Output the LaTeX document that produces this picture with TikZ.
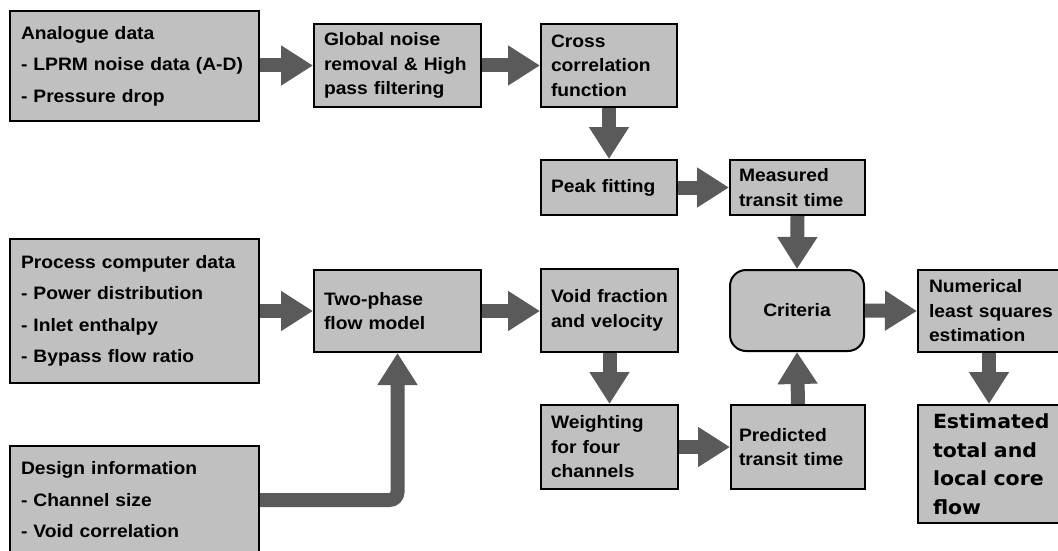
\documentclass[tikz,border=0pt]{standalone}
\usepackage{fontspec}
\setmainfont{Liberation Sans}[FakeStretch=1.07]
\newfontfamily\estfont{DejaVu Sans}[FakeStretch=1.05]
\usetikzlibrary{arrows.meta}
\definecolor{boxgray}{HTML}{C0C0C0}
\definecolor{arrowgray}{HTML}{5A5A5A}
\begin{document}
\begin{tikzpicture}[x=1pt,y=-1pt,
  box/.style={draw=black, line width=2pt, fill=boxgray, anchor=north west,
    align=left, inner ysep=0pt, inner xsep=10pt,
    font=\bfseries\fontsize{18}{24.5}\selectfont},
  listbox/.style={box, inner xsep=11pt, font=\bfseries\fontsize{18}{31.5}\selectfont},
  estbox/.style={box, inner xsep=15pt, font=\estfont\bfseries\fontsize{19.5}{28.5}\selectfont},
  conn/.style={draw=arrowgray, line width=14pt, -{Triangle[length=32pt,width=38pt]}}
]
\useasboundingbox (0,0) rectangle (1058,551);
\clip (0,0) rectangle (1058,551);
\fill[white] (0,0) rectangle (1058,551);

% top row
\node[listbox, minimum width=249pt, minimum height=110pt, text width=227pt] (analogue) at (9,10)
  {Analogue data\\- LPRM noise data (A-D)\\- Pressure drop};
\node[box, minimum width=167pt, minimum height=83pt, text width=147pt] (global) at (313,23)
  {Global noise\\removal \& High\\pass filtering};
\node[box, minimum width=136pt, minimum height=83pt, text width=116pt] (cross) at (540,23)
  {Cross\\correlation\\function};
\node[box, minimum width=136pt, minimum height=55pt, text width=116pt] (peak) at (540,159)
  {Peak fitting};
\node[box, minimum width=135pt, minimum height=55pt, text width=117pt, inner xsep=9pt] (measured) at (729,159)
  {Measured\\\mbox{transit time}};

% middle row
\node[listbox, minimum width=249pt, minimum height=144pt, text width=227pt] (process) at (9,238)
  {Process computer data\\- Power distribution\\- Inlet enthalpy\\- Bypass flow ratio};
\node[box, minimum width=167pt, minimum height=82pt, text width=147pt] (twophase) at (313,269)
  {Two-phase\\flow model};
\node[box, minimum width=137pt, minimum height=83pt, text width=117pt] (void) at (540,268)
  {\mbox{Void fraction}\\\mbox{and velocity}};
\node[box, rounded corners=16pt, minimum width=134pt, minimum height=81pt, text width=114pt, align=center] (criteria) at (729,269)
  {Criteria};
\node[box, minimum width=142pt, minimum height=82pt, text width=120pt, inner xsep=11pt] (numerical) at (917,269)
  {Numerical\\\mbox{least squares}\\estimation};

% bottom row
\node[listbox, minimum width=249pt, minimum height=108pt, text width=227pt] (design) at (9,445)
  {Design information\\- Channel size\\- Void correlation};
\node[box, minimum width=137pt, minimum height=84pt, text width=117pt] (weighting) at (540,404)
  {Weighting\\for four\\channels};
\node[box, minimum width=134pt, minimum height=84pt, text width=118pt, inner xsep=8pt] (predicted) at (730,404)
  {Predicted\\\mbox{transit time}};
\node[estbox, minimum width=142pt, minimum height=118pt, text width=112pt] (estimated) at (917,404)
  {\mbox{Estimated}\\\mbox{total and}\\\mbox{local core}\\flow};

% connectors
\draw[conn] (analogue.east |- global.west) -- (global.west);
\draw[conn] (global.east) -- (cross.west);
\draw[conn] (cross.south) -- (peak.north);
\draw[conn] (peak.east) -- (measured.west);
\draw[conn] (measured.south) -- (criteria.north);
\draw[conn] (process.east |- twophase.west) -- (twophase.west);
\draw[conn] (twophase.east) -- (void.west |- twophase.east);
\draw[conn] (void.south) -- (weighting.north);
\draw[conn] (weighting.east) -- (predicted.west);
\draw[conn] (predicted.north) -- (criteria.south);
\draw[conn] (criteria.east) -- (numerical.west);
\draw[conn] (numerical.south) -- (estimated.north);
\draw[conn, rounded corners=8pt] (design.east) -| (twophase.south);
\end{tikzpicture}
\end{document}
